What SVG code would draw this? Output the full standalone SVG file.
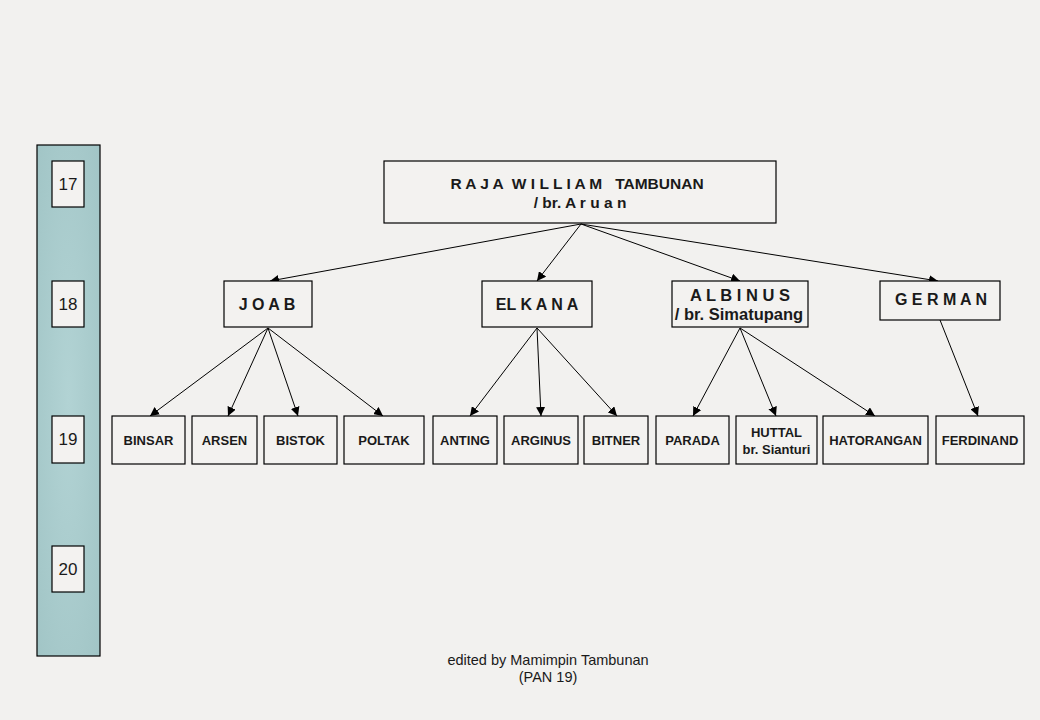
<svg xmlns="http://www.w3.org/2000/svg" width="1040" height="720" viewBox="0 0 1040 720">
<style>
.box{fill:#f3f2f0;stroke:#000;stroke-width:1.2}
.t{font-family:"Liberation Sans",Arial,sans-serif;font-weight:bold;fill:#1a1a1a;text-anchor:middle}
.s{font-size:13px}
.m{font-size:16px;white-space:pre}
.r{font-size:15.5px}
.al{font-size:16.5px}
.y{font-family:"Liberation Sans",Arial,sans-serif;font-size:17px;fill:#1a1a1a;text-anchor:middle}
.c line{stroke:#000;stroke-width:1;marker-end:url(#a)}
.f{font-family:"Liberation Sans",Arial,sans-serif;font-size:14.5px;fill:#1a1a1a;text-anchor:middle}
</style>
<defs>
<marker id="a" viewBox="0 0 10 10" refX="10" refY="5" markerWidth="9" markerHeight="9" markerUnits="userSpaceOnUse" orient="auto">
<path d="M0,0 L10,5 L0,10 z" fill="#000"/>
</marker>
<radialGradient id="g" cx="0.5" cy="0.5" r="0.8">
<stop offset="0" stop-color="#b2d3d4"/>
<stop offset="1" stop-color="#9fc3c4"/>
</radialGradient>
</defs>
<rect width="1040" height="720" fill="#f2f1ef"/>
<g id="sidebar">
<rect x="37" y="145" width="63" height="511" fill="url(#g)" stroke="#000" stroke-width="1.2"/>
</g>
<g id="y17"><rect class="box" x="52" y="161" width="32" height="46"/><text class="y" x="68" y="190">17</text></g>
<g id="y18"><rect class="box" x="52" y="281" width="32" height="46"/><text class="y" x="68" y="310">18</text></g>
<g id="y19"><rect class="box" x="52" y="416" width="32" height="47"/><text class="y" x="68" y="445">19</text></g>
<g id="y20"><rect class="box" x="52" y="546" width="32" height="46"/><text class="y" x="68" y="575">20</text></g>

<g class="c" id="connectors">
<line x1="581" y1="224" x2="270" y2="281"/>
<line x1="581" y1="224" x2="537" y2="281"/>
<line x1="581" y1="224" x2="740" y2="281"/>
<line x1="581" y1="224" x2="938" y2="281"/>
<line x1="268" y1="328" x2="150" y2="416"/>
<line x1="268" y1="328" x2="228" y2="416"/>
<line x1="268" y1="328" x2="298" y2="416"/>
<line x1="268" y1="328" x2="383" y2="416"/>
<line x1="537" y1="328" x2="470" y2="416"/>
<line x1="537" y1="328" x2="541" y2="416"/>
<line x1="537" y1="328" x2="617" y2="416"/>
<line x1="740" y1="328" x2="693" y2="416"/>
<line x1="740" y1="328" x2="776" y2="416"/>
<line x1="740" y1="328" x2="875" y2="416"/>
<line x1="940" y1="320" x2="978" y2="416"/>
</g>

<g id="root"><rect class="box" x="384" y="161" width="392" height="62"/>
<text class="t m r" x="577" y="189">R A J A  W I L L I A M   TAMBUNAN</text>
<text class="t m r" x="580" y="208">/ br. A r u a n</text></g>
<g id="joab"><rect class="box" x="224" y="281" width="88" height="46"/><text class="t m" x="267" y="310">J O A B</text></g>
<g id="elkana"><rect class="box" x="482" y="281" width="110" height="46"/><text class="t m" x="537" y="310">EL K A N A</text></g>
<g id="albinus"><rect class="box" x="672" y="281" width="136" height="46"/><text class="t m al" x="740" y="301">A L B I N U S</text><text class="t m al" x="739" y="320">/ br. Simatupang</text></g>
<g id="german"><rect class="box" x="880" y="281" width="120" height="39"/><text class="t m" x="941" y="305">G E R M A N</text></g>

<g id="binsar"><rect class="box" x="112" y="416" width="73" height="48"/><text class="t s" x="148.5" y="445">BINSAR</text></g>
<g id="arsen"><rect class="box" x="192" y="416" width="65" height="48"/><text class="t s" x="224.5" y="445">ARSEN</text></g>
<g id="bistok"><rect class="box" x="264" y="416" width="73" height="48"/><text class="t s" x="300.5" y="445">BISTOK</text></g>
<g id="poltak"><rect class="box" x="344" y="416" width="80" height="48"/><text class="t s" x="384" y="445">POLTAK</text></g>
<g id="anting"><rect class="box" x="433" y="416" width="64" height="48"/><text class="t s" x="465" y="445">ANTING</text></g>
<g id="arginus"><rect class="box" x="504" y="416" width="74" height="48"/><text class="t s" x="541" y="445">ARGINUS</text></g>
<g id="bitner"><rect class="box" x="584" y="416" width="64" height="48"/><text class="t s" x="616" y="445">BITNER</text></g>
<g id="parada"><rect class="box" x="656" y="416" width="73" height="48"/><text class="t s" x="692.5" y="445">PARADA</text></g>
<g id="huttal"><rect class="box" x="736" y="416" width="81" height="48"/><text class="t s" x="776.5" y="437">HUTTAL</text><text class="t s" x="776.5" y="454">br. Sianturi</text></g>
<g id="hatorangan"><rect class="box" x="823" y="416" width="105" height="48"/><text class="t s" x="875.5" y="445">HATORANGAN</text></g>
<g id="ferdinand"><rect class="box" x="936" y="416" width="88" height="48"/><text class="t s" x="980" y="445">FERDINAND</text></g>

<g id="footer">
<text class="f" x="548" y="665">edited by Mamimpin Tambunan</text>
<text class="f" x="548" y="682">(PAN 19)</text>
</g>
</svg>
